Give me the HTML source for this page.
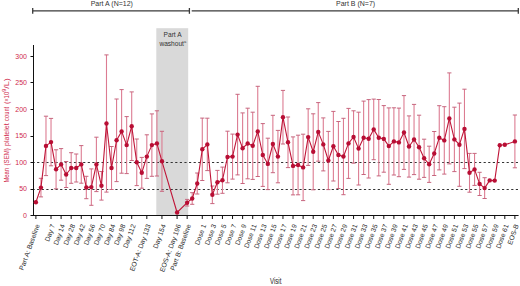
<!DOCTYPE html><html><head><meta charset="utf-8"><style>html,body{margin:0;padding:0;background:#fff;}svg{display:block}text{font-family:"Liberation Sans",sans-serif;}</style></head><body>
<svg width="520" height="286" viewBox="0 0 520 286">
<rect x="156.3" y="28.2" width="31.9" height="187.3" fill="#d9d9d9"/>
<text x="172.6" y="37.1" font-size="6.6" text-anchor="middle" fill="#333">Part A</text>
<text x="172.8" y="45.9" font-size="6.6" text-anchor="middle" fill="#333">washout<tspan font-size="4" dy="-2.8">a</tspan></text>
<g stroke="#3a3a3a" stroke-width="1.3" fill="none">
<line x1="32.7" y1="10.8" x2="189.4" y2="10.8"/><line x1="191.7" y1="10.8" x2="518.3" y2="10.8"/>
<line x1="32.7" y1="8" x2="32.7" y2="13.8"/><line x1="189.4" y1="8" x2="189.4" y2="13.8"/><line x1="518.3" y1="8" x2="518.3" y2="13.8"/>
</g>
<text x="111.8" y="5.7" font-size="7.00" text-anchor="middle" fill="#333">Part A (N=12)</text>
<text x="355.6" y="5.7" font-size="7.00" text-anchor="middle" fill="#333">Part B (N=7)</text>
<line x1="32.5" y1="162.50" x2="518.5" y2="162.50" stroke="#333" stroke-width="1" stroke-dasharray="2.2 2.403"/>
<line x1="32.5" y1="189.50" x2="518.5" y2="189.50" stroke="#333" stroke-width="1" stroke-dasharray="2.2 2.403"/>
<g stroke="#111" stroke-width="1" fill="none">
<line x1="33.5" y1="45" x2="33.5" y2="215.9"/>
<line x1="33" y1="215.5" x2="518.6" y2="215.5"/>
<line x1="30.5" y1="215.50" x2="33.5" y2="215.50"/>
<line x1="30.5" y1="189.50" x2="33.5" y2="189.50"/>
<line x1="30.5" y1="162.50" x2="33.5" y2="162.50"/>
<line x1="30.5" y1="136.50" x2="33.5" y2="136.50"/>
<line x1="30.5" y1="109.50" x2="33.5" y2="109.50"/>
<line x1="30.5" y1="82.50" x2="33.5" y2="82.50"/>
<line x1="30.5" y1="56.50" x2="33.5" y2="56.50"/>
<line x1="35.90" y1="215.5" x2="35.90" y2="219"/>
<line x1="51.03" y1="215.5" x2="51.03" y2="219"/>
<line x1="61.11" y1="215.5" x2="61.11" y2="219"/>
<line x1="71.19" y1="215.5" x2="71.19" y2="219"/>
<line x1="81.28" y1="215.5" x2="81.28" y2="219"/>
<line x1="91.36" y1="215.5" x2="91.36" y2="219"/>
<line x1="101.45" y1="215.5" x2="101.45" y2="219"/>
<line x1="111.53" y1="215.5" x2="111.53" y2="219"/>
<line x1="121.61" y1="215.5" x2="121.61" y2="219"/>
<line x1="131.70" y1="215.5" x2="131.70" y2="219"/>
<line x1="146.82" y1="215.5" x2="146.82" y2="219"/>
<line x1="161.95" y1="215.5" x2="161.95" y2="219"/>
<line x1="177.08" y1="215.5" x2="177.08" y2="219"/>
<line x1="187.16" y1="215.5" x2="187.16" y2="219"/>
<line x1="202.29" y1="215.5" x2="202.29" y2="219"/>
<line x1="212.37" y1="215.5" x2="212.37" y2="219"/>
<line x1="222.45" y1="215.5" x2="222.45" y2="219"/>
<line x1="232.54" y1="215.5" x2="232.54" y2="219"/>
<line x1="242.62" y1="215.5" x2="242.62" y2="219"/>
<line x1="252.71" y1="215.5" x2="252.71" y2="219"/>
<line x1="262.79" y1="215.5" x2="262.79" y2="219"/>
<line x1="272.87" y1="215.5" x2="272.87" y2="219"/>
<line x1="282.96" y1="215.5" x2="282.96" y2="219"/>
<line x1="293.04" y1="215.5" x2="293.04" y2="219"/>
<line x1="303.13" y1="215.5" x2="303.13" y2="219"/>
<line x1="313.21" y1="215.5" x2="313.21" y2="219"/>
<line x1="323.29" y1="215.5" x2="323.29" y2="219"/>
<line x1="333.38" y1="215.5" x2="333.38" y2="219"/>
<line x1="343.46" y1="215.5" x2="343.46" y2="219"/>
<line x1="353.55" y1="215.5" x2="353.55" y2="219"/>
<line x1="363.63" y1="215.5" x2="363.63" y2="219"/>
<line x1="373.71" y1="215.5" x2="373.71" y2="219"/>
<line x1="383.80" y1="215.5" x2="383.80" y2="219"/>
<line x1="393.88" y1="215.5" x2="393.88" y2="219"/>
<line x1="403.97" y1="215.5" x2="403.97" y2="219"/>
<line x1="414.05" y1="215.5" x2="414.05" y2="219"/>
<line x1="424.13" y1="215.5" x2="424.13" y2="219"/>
<line x1="434.22" y1="215.5" x2="434.22" y2="219"/>
<line x1="444.30" y1="215.5" x2="444.30" y2="219"/>
<line x1="454.39" y1="215.5" x2="454.39" y2="219"/>
<line x1="464.47" y1="215.5" x2="464.47" y2="219"/>
<line x1="474.55" y1="215.5" x2="474.55" y2="219"/>
<line x1="484.64" y1="215.5" x2="484.64" y2="219"/>
<line x1="494.72" y1="215.5" x2="494.72" y2="219"/>
<line x1="504.81" y1="215.5" x2="504.81" y2="219"/>
<line x1="514.89" y1="215.5" x2="514.89" y2="219"/>
</g>
<text x="27" y="217.87" font-size="7.00" text-anchor="end" fill="#cf2a4c">0</text>
<text x="27" y="191.35" font-size="7.00" text-anchor="end" fill="#cf2a4c">50</text>
<text x="27" y="164.83" font-size="7.00" text-anchor="end" fill="#cf2a4c">100</text>
<text x="27" y="138.31" font-size="7.00" text-anchor="end" fill="#cf2a4c">150</text>
<text x="27" y="111.79" font-size="7.00" text-anchor="end" fill="#cf2a4c">200</text>
<text x="27" y="85.27" font-size="7.00" text-anchor="end" fill="#cf2a4c">250</text>
<text x="27" y="58.75" font-size="7.00" text-anchor="end" fill="#cf2a4c">300</text>
<text transform="translate(9.00,182.50) rotate(-90)" font-size="7.60" textLength="14.60" lengthAdjust="spacingAndGlyphs" fill="#cf2a4c">Mean</text>
<text transform="translate(9.00,165.40) rotate(-90)" font-size="7.60" textLength="17.20" lengthAdjust="spacingAndGlyphs" fill="#cf2a4c">(SEM)</text>
<text transform="translate(9.00,145.90) rotate(-90)" font-size="7.60" textLength="22.50" lengthAdjust="spacingAndGlyphs" fill="#cf2a4c">platelet</text>
<text transform="translate(9.00,120.90) rotate(-90)" font-size="7.60" textLength="14.10" lengthAdjust="spacingAndGlyphs" fill="#cf2a4c">count</text>
<text transform="translate(9.00,103.80) rotate(-90)" font-size="7.60" fill="#cf2a4c"><tspan textLength="12" lengthAdjust="spacingAndGlyphs">(×10</tspan><tspan font-size="5.4" dy="-3">9</tspan><tspan dy="3" textLength="10.5" lengthAdjust="spacingAndGlyphs">/L)</tspan></text>
<text transform="translate(39.90,225.30) rotate(-70)" font-size="6.80" text-anchor="end" fill="#262626">Part A: Baseline</text>
<text transform="translate(55.03,225.30) rotate(-70)" font-size="6.80" text-anchor="end" fill="#262626">Day 7</text>
<text transform="translate(65.11,225.30) rotate(-70)" font-size="6.80" text-anchor="end" fill="#262626">Day 14</text>
<text transform="translate(75.19,225.30) rotate(-70)" font-size="6.80" text-anchor="end" fill="#262626">Day 28</text>
<text transform="translate(85.28,225.30) rotate(-70)" font-size="6.80" text-anchor="end" fill="#262626">Day 42</text>
<text transform="translate(95.36,225.30) rotate(-70)" font-size="6.80" text-anchor="end" fill="#262626">Day 56</text>
<text transform="translate(105.45,225.30) rotate(-70)" font-size="6.80" text-anchor="end" fill="#262626">Day 70</text>
<text transform="translate(115.53,225.30) rotate(-70)" font-size="6.80" text-anchor="end" fill="#262626">Day 84</text>
<text transform="translate(125.61,225.30) rotate(-70)" font-size="6.80" text-anchor="end" fill="#262626">Day 98</text>
<text transform="translate(135.70,225.30) rotate(-70)" font-size="6.80" text-anchor="end" fill="#262626">Day 112</text>
<text transform="translate(150.82,225.30) rotate(-70)" font-size="6.80" text-anchor="end" fill="#262626">EOT-A: Day 133</text>
<text transform="translate(165.95,225.30) rotate(-70)" font-size="6.80" text-anchor="end" fill="#262626">Day 154</text>
<text transform="translate(181.08,225.30) rotate(-70)" font-size="6.80" text-anchor="end" fill="#262626">EOS-A: Day 196</text>
<text transform="translate(191.16,225.30) rotate(-70)" font-size="6.80" text-anchor="end" fill="#262626">Part B: Baseline</text>
<text transform="translate(206.29,225.30) rotate(-70)" font-size="6.80" text-anchor="end" fill="#262626">Dose 1</text>
<text transform="translate(216.37,225.30) rotate(-70)" font-size="6.80" text-anchor="end" fill="#262626">Dose 3</text>
<text transform="translate(226.45,225.30) rotate(-70)" font-size="6.80" text-anchor="end" fill="#262626">Dose 5</text>
<text transform="translate(236.54,225.30) rotate(-70)" font-size="6.80" text-anchor="end" fill="#262626">Dose 7</text>
<text transform="translate(246.62,225.30) rotate(-70)" font-size="6.80" text-anchor="end" fill="#262626">Dose 9</text>
<text transform="translate(256.71,225.30) rotate(-70)" font-size="6.80" text-anchor="end" fill="#262626">Dose 11</text>
<text transform="translate(266.79,225.30) rotate(-70)" font-size="6.80" text-anchor="end" fill="#262626">Dose 13</text>
<text transform="translate(276.87,225.30) rotate(-70)" font-size="6.80" text-anchor="end" fill="#262626">Dose 15</text>
<text transform="translate(286.96,225.30) rotate(-70)" font-size="6.80" text-anchor="end" fill="#262626">Dose 17</text>
<text transform="translate(297.04,225.30) rotate(-70)" font-size="6.80" text-anchor="end" fill="#262626">Dose 19</text>
<text transform="translate(307.13,225.30) rotate(-70)" font-size="6.80" text-anchor="end" fill="#262626">Dose 21</text>
<text transform="translate(317.21,225.30) rotate(-70)" font-size="6.80" text-anchor="end" fill="#262626">Dose 23</text>
<text transform="translate(327.29,225.30) rotate(-70)" font-size="6.80" text-anchor="end" fill="#262626">Dose 25</text>
<text transform="translate(337.38,225.30) rotate(-70)" font-size="6.80" text-anchor="end" fill="#262626">Dose 27</text>
<text transform="translate(347.46,225.30) rotate(-70)" font-size="6.80" text-anchor="end" fill="#262626">Dose 29</text>
<text transform="translate(357.55,225.30) rotate(-70)" font-size="6.80" text-anchor="end" fill="#262626">Dose 31</text>
<text transform="translate(367.63,225.30) rotate(-70)" font-size="6.80" text-anchor="end" fill="#262626">Dose 33</text>
<text transform="translate(377.71,225.30) rotate(-70)" font-size="6.80" text-anchor="end" fill="#262626">Dose 35</text>
<text transform="translate(387.80,225.30) rotate(-70)" font-size="6.80" text-anchor="end" fill="#262626">Dose 37</text>
<text transform="translate(397.88,225.30) rotate(-70)" font-size="6.80" text-anchor="end" fill="#262626">Dose 39</text>
<text transform="translate(407.97,225.30) rotate(-70)" font-size="6.80" text-anchor="end" fill="#262626">Dose 41</text>
<text transform="translate(418.05,225.30) rotate(-70)" font-size="6.80" text-anchor="end" fill="#262626">Dose 43</text>
<text transform="translate(428.13,225.30) rotate(-70)" font-size="6.80" text-anchor="end" fill="#262626">Dose 45</text>
<text transform="translate(438.22,225.30) rotate(-70)" font-size="6.80" text-anchor="end" fill="#262626">Dose 47</text>
<text transform="translate(448.30,225.30) rotate(-70)" font-size="6.80" text-anchor="end" fill="#262626">Dose 49</text>
<text transform="translate(458.39,225.30) rotate(-70)" font-size="6.80" text-anchor="end" fill="#262626">Dose 51</text>
<text transform="translate(468.47,225.30) rotate(-70)" font-size="6.80" text-anchor="end" fill="#262626">Dose 53</text>
<text transform="translate(478.55,225.30) rotate(-70)" font-size="6.80" text-anchor="end" fill="#262626">Dose 55</text>
<text transform="translate(488.64,225.30) rotate(-70)" font-size="6.80" text-anchor="end" fill="#262626">Dose 57</text>
<text transform="translate(498.72,225.30) rotate(-70)" font-size="6.80" text-anchor="end" fill="#262626">Dose 59</text>
<text transform="translate(508.81,225.30) rotate(-70)" font-size="6.80" text-anchor="end" fill="#262626">Dose 61</text>
<text transform="translate(518.89,225.30) rotate(-70)" font-size="6.80" text-anchor="end" fill="#262626">EOS-B</text>
<text x="270.1" y="283.6" font-size="9.8" textLength="11.3" lengthAdjust="spacingAndGlyphs" fill="#222">Visit</text>
<g stroke="#dc7c92" stroke-width="1.1" fill="none">
<line x1="40.94" y1="178.30" x2="40.94" y2="196.90"/>
<line x1="45.98" y1="116.20" x2="45.98" y2="175.60"/>
<line x1="51.03" y1="118.40" x2="51.03" y2="165.80"/>
<line x1="56.07" y1="149.80" x2="56.07" y2="188.80"/>
<line x1="61.11" y1="148.60" x2="61.11" y2="180.20"/>
<line x1="66.15" y1="161.50" x2="66.15" y2="187.50"/>
<line x1="71.19" y1="152.70" x2="71.19" y2="183.30"/>
<line x1="76.24" y1="154.00" x2="76.24" y2="182.00"/>
<line x1="81.28" y1="145.60" x2="81.28" y2="183.20"/>
<line x1="86.32" y1="176.30" x2="86.32" y2="198.70"/>
<line x1="91.36" y1="168.90" x2="91.36" y2="205.30"/>
<line x1="96.40" y1="137.20" x2="96.40" y2="191.60"/>
<line x1="101.45" y1="171.50" x2="101.45" y2="200.10"/>
<line x1="106.49" y1="54.90" x2="106.49" y2="192.10"/>
<line x1="111.53" y1="146.50" x2="111.53" y2="189.50"/>
<line x1="116.57" y1="99.00" x2="116.57" y2="181.60"/>
<line x1="121.61" y1="89.60" x2="121.61" y2="173.20"/>
<line x1="126.66" y1="116.60" x2="126.66" y2="173.60"/>
<line x1="131.70" y1="91.90" x2="131.70" y2="160.50"/>
<line x1="136.74" y1="139.00" x2="136.74" y2="185.60"/>
<line x1="141.78" y1="157.40" x2="141.78" y2="188.20"/>
<line x1="146.82" y1="134.80" x2="146.82" y2="178.40"/>
<line x1="151.87" y1="113.90" x2="151.87" y2="176.30"/>
<line x1="156.91" y1="110.80" x2="156.91" y2="176.00"/>
<line x1="161.95" y1="131.30" x2="161.95" y2="191.30"/>
<line x1="187.16" y1="199.40" x2="187.16" y2="206.00"/>
<line x1="192.20" y1="192.70" x2="192.20" y2="204.30"/>
<line x1="197.24" y1="173.00" x2="197.24" y2="194.00"/>
<line x1="202.29" y1="118.10" x2="202.29" y2="180.50"/>
<line x1="207.33" y1="118.20" x2="207.33" y2="170.60"/>
<line x1="212.37" y1="186.00" x2="212.37" y2="203.60"/>
<line x1="217.41" y1="170.40" x2="217.41" y2="194.20"/>
<line x1="222.45" y1="167.10" x2="222.45" y2="193.30"/>
<line x1="227.50" y1="131.20" x2="227.50" y2="182.80"/>
<line x1="232.54" y1="134.10" x2="232.54" y2="179.10"/>
<line x1="237.58" y1="94.30" x2="237.58" y2="174.90"/>
<line x1="242.62" y1="112.90" x2="242.62" y2="183.50"/>
<line x1="247.66" y1="108.20" x2="247.66" y2="178.80"/>
<line x1="252.71" y1="112.20" x2="252.71" y2="179.40"/>
<line x1="257.75" y1="86.30" x2="257.75" y2="176.50"/>
<line x1="262.79" y1="123.60" x2="262.79" y2="186.40"/>
<line x1="267.83" y1="138.20" x2="267.83" y2="189.60"/>
<line x1="272.87" y1="115.30" x2="272.87" y2="172.70"/>
<line x1="277.92" y1="130.40" x2="277.92" y2="182.80"/>
<line x1="282.96" y1="90.40" x2="282.96" y2="144.00"/>
<line x1="288.00" y1="117.00" x2="288.00" y2="167.60"/>
<line x1="293.04" y1="136.90" x2="293.04" y2="194.90"/>
<line x1="298.08" y1="135.20" x2="298.08" y2="194.80"/>
<line x1="303.13" y1="134.20" x2="303.13" y2="200.60"/>
<line x1="308.17" y1="108.80" x2="308.17" y2="165.40"/>
<line x1="313.21" y1="113.80" x2="313.21" y2="189.80"/>
<line x1="318.25" y1="102.60" x2="318.25" y2="161.20"/>
<line x1="323.29" y1="117.90" x2="323.29" y2="170.90"/>
<line x1="328.34" y1="131.40" x2="328.34" y2="189.60"/>
<line x1="333.38" y1="111.40" x2="333.38" y2="181.00"/>
<line x1="338.42" y1="121.50" x2="338.42" y2="188.50"/>
<line x1="343.46" y1="118.30" x2="343.46" y2="194.70"/>
<line x1="348.50" y1="108.40" x2="348.50" y2="178.40"/>
<line x1="353.55" y1="110.80" x2="353.55" y2="163.20"/>
<line x1="358.59" y1="112.20" x2="358.59" y2="185.00"/>
<line x1="363.63" y1="101.10" x2="363.63" y2="174.50"/>
<line x1="368.67" y1="99.60" x2="368.67" y2="178.00"/>
<line x1="373.71" y1="99.10" x2="373.71" y2="159.70"/>
<line x1="378.76" y1="99.50" x2="378.76" y2="175.90"/>
<line x1="383.80" y1="105.60" x2="383.80" y2="172.20"/>
<line x1="388.84" y1="107.90" x2="388.84" y2="184.30"/>
<line x1="393.88" y1="107.80" x2="393.88" y2="175.00"/>
<line x1="398.92" y1="108.10" x2="398.92" y2="176.70"/>
<line x1="403.97" y1="95.60" x2="403.97" y2="169.40"/>
<line x1="409.01" y1="115.90" x2="409.01" y2="177.10"/>
<line x1="414.05" y1="104.40" x2="414.05" y2="174.60"/>
<line x1="419.09" y1="115.20" x2="419.09" y2="179.20"/>
<line x1="424.13" y1="139.20" x2="424.13" y2="177.40"/>
<line x1="429.18" y1="146.20" x2="429.18" y2="182.40"/>
<line x1="434.22" y1="131.50" x2="434.22" y2="175.50"/>
<line x1="439.26" y1="105.70" x2="439.26" y2="169.90"/>
<line x1="444.30" y1="106.70" x2="444.30" y2="174.10"/>
<line x1="449.34" y1="72.90" x2="449.34" y2="163.90"/>
<line x1="454.39" y1="107.20" x2="454.39" y2="171.60"/>
<line x1="459.43" y1="103.10" x2="459.43" y2="186.30"/>
<line x1="464.47" y1="89.20" x2="464.47" y2="168.60"/>
<line x1="469.51" y1="153.40" x2="469.51" y2="192.20"/>
<line x1="474.55" y1="153.40" x2="474.55" y2="185.40"/>
<line x1="479.60" y1="172.30" x2="479.60" y2="195.50"/>
<line x1="484.64" y1="177.70" x2="484.64" y2="198.50"/>
<line x1="514.89" y1="115.00" x2="514.89" y2="167.80"/>
</g>
<g stroke="#c6667e" stroke-width="1" fill="none">
<line x1="38.84" y1="178.30" x2="43.04" y2="178.30"/>
<line x1="38.84" y1="196.90" x2="43.04" y2="196.90"/>
<line x1="43.88" y1="116.20" x2="48.08" y2="116.20"/>
<line x1="43.88" y1="175.60" x2="48.08" y2="175.60"/>
<line x1="48.93" y1="118.40" x2="53.13" y2="118.40"/>
<line x1="48.93" y1="165.80" x2="53.13" y2="165.80"/>
<line x1="53.97" y1="149.80" x2="58.17" y2="149.80"/>
<line x1="53.97" y1="188.80" x2="58.17" y2="188.80"/>
<line x1="59.01" y1="148.60" x2="63.21" y2="148.60"/>
<line x1="59.01" y1="180.20" x2="63.21" y2="180.20"/>
<line x1="64.05" y1="161.50" x2="68.25" y2="161.50"/>
<line x1="64.05" y1="187.50" x2="68.25" y2="187.50"/>
<line x1="69.09" y1="152.70" x2="73.29" y2="152.70"/>
<line x1="69.09" y1="183.30" x2="73.29" y2="183.30"/>
<line x1="74.14" y1="154.00" x2="78.34" y2="154.00"/>
<line x1="74.14" y1="182.00" x2="78.34" y2="182.00"/>
<line x1="79.18" y1="145.60" x2="83.38" y2="145.60"/>
<line x1="79.18" y1="183.20" x2="83.38" y2="183.20"/>
<line x1="84.22" y1="176.30" x2="88.42" y2="176.30"/>
<line x1="84.22" y1="198.70" x2="88.42" y2="198.70"/>
<line x1="89.26" y1="168.90" x2="93.46" y2="168.90"/>
<line x1="89.26" y1="205.30" x2="93.46" y2="205.30"/>
<line x1="94.30" y1="137.20" x2="98.50" y2="137.20"/>
<line x1="94.30" y1="191.60" x2="98.50" y2="191.60"/>
<line x1="99.35" y1="171.50" x2="103.55" y2="171.50"/>
<line x1="99.35" y1="200.10" x2="103.55" y2="200.10"/>
<line x1="104.39" y1="54.90" x2="108.59" y2="54.90"/>
<line x1="104.39" y1="192.10" x2="108.59" y2="192.10"/>
<line x1="109.43" y1="146.50" x2="113.63" y2="146.50"/>
<line x1="109.43" y1="189.50" x2="113.63" y2="189.50"/>
<line x1="114.47" y1="99.00" x2="118.67" y2="99.00"/>
<line x1="114.47" y1="181.60" x2="118.67" y2="181.60"/>
<line x1="119.51" y1="89.60" x2="123.71" y2="89.60"/>
<line x1="119.51" y1="173.20" x2="123.71" y2="173.20"/>
<line x1="124.56" y1="116.60" x2="128.76" y2="116.60"/>
<line x1="124.56" y1="173.60" x2="128.76" y2="173.60"/>
<line x1="129.60" y1="91.90" x2="133.80" y2="91.90"/>
<line x1="129.60" y1="160.50" x2="133.80" y2="160.50"/>
<line x1="134.64" y1="139.00" x2="138.84" y2="139.00"/>
<line x1="134.64" y1="185.60" x2="138.84" y2="185.60"/>
<line x1="139.68" y1="157.40" x2="143.88" y2="157.40"/>
<line x1="139.68" y1="188.20" x2="143.88" y2="188.20"/>
<line x1="144.72" y1="134.80" x2="148.92" y2="134.80"/>
<line x1="144.72" y1="178.40" x2="148.92" y2="178.40"/>
<line x1="149.77" y1="113.90" x2="153.97" y2="113.90"/>
<line x1="149.77" y1="176.30" x2="153.97" y2="176.30"/>
<line x1="154.81" y1="110.80" x2="159.01" y2="110.80"/>
<line x1="154.81" y1="176.00" x2="159.01" y2="176.00"/>
<line x1="159.85" y1="131.30" x2="164.05" y2="131.30"/>
<line x1="159.85" y1="191.30" x2="164.05" y2="191.30"/>
<line x1="185.06" y1="199.40" x2="189.26" y2="199.40"/>
<line x1="185.06" y1="206.00" x2="189.26" y2="206.00"/>
<line x1="190.10" y1="192.70" x2="194.30" y2="192.70"/>
<line x1="190.10" y1="204.30" x2="194.30" y2="204.30"/>
<line x1="195.14" y1="173.00" x2="199.34" y2="173.00"/>
<line x1="195.14" y1="194.00" x2="199.34" y2="194.00"/>
<line x1="200.19" y1="118.10" x2="204.39" y2="118.10"/>
<line x1="200.19" y1="180.50" x2="204.39" y2="180.50"/>
<line x1="205.23" y1="118.20" x2="209.43" y2="118.20"/>
<line x1="205.23" y1="170.60" x2="209.43" y2="170.60"/>
<line x1="210.27" y1="186.00" x2="214.47" y2="186.00"/>
<line x1="210.27" y1="203.60" x2="214.47" y2="203.60"/>
<line x1="215.31" y1="170.40" x2="219.51" y2="170.40"/>
<line x1="215.31" y1="194.20" x2="219.51" y2="194.20"/>
<line x1="220.35" y1="167.10" x2="224.55" y2="167.10"/>
<line x1="220.35" y1="193.30" x2="224.55" y2="193.30"/>
<line x1="225.40" y1="131.20" x2="229.60" y2="131.20"/>
<line x1="225.40" y1="182.80" x2="229.60" y2="182.80"/>
<line x1="230.44" y1="134.10" x2="234.64" y2="134.10"/>
<line x1="230.44" y1="179.10" x2="234.64" y2="179.10"/>
<line x1="235.48" y1="94.30" x2="239.68" y2="94.30"/>
<line x1="235.48" y1="174.90" x2="239.68" y2="174.90"/>
<line x1="240.52" y1="112.90" x2="244.72" y2="112.90"/>
<line x1="240.52" y1="183.50" x2="244.72" y2="183.50"/>
<line x1="245.56" y1="108.20" x2="249.76" y2="108.20"/>
<line x1="245.56" y1="178.80" x2="249.76" y2="178.80"/>
<line x1="250.61" y1="112.20" x2="254.81" y2="112.20"/>
<line x1="250.61" y1="179.40" x2="254.81" y2="179.40"/>
<line x1="255.65" y1="86.30" x2="259.85" y2="86.30"/>
<line x1="255.65" y1="176.50" x2="259.85" y2="176.50"/>
<line x1="260.69" y1="123.60" x2="264.89" y2="123.60"/>
<line x1="260.69" y1="186.40" x2="264.89" y2="186.40"/>
<line x1="265.73" y1="138.20" x2="269.93" y2="138.20"/>
<line x1="265.73" y1="189.60" x2="269.93" y2="189.60"/>
<line x1="270.77" y1="115.30" x2="274.97" y2="115.30"/>
<line x1="270.77" y1="172.70" x2="274.97" y2="172.70"/>
<line x1="275.82" y1="130.40" x2="280.02" y2="130.40"/>
<line x1="275.82" y1="182.80" x2="280.02" y2="182.80"/>
<line x1="280.86" y1="90.40" x2="285.06" y2="90.40"/>
<line x1="280.86" y1="144.00" x2="285.06" y2="144.00"/>
<line x1="285.90" y1="117.00" x2="290.10" y2="117.00"/>
<line x1="285.90" y1="167.60" x2="290.10" y2="167.60"/>
<line x1="290.94" y1="136.90" x2="295.14" y2="136.90"/>
<line x1="290.94" y1="194.90" x2="295.14" y2="194.90"/>
<line x1="295.98" y1="135.20" x2="300.18" y2="135.20"/>
<line x1="295.98" y1="194.80" x2="300.18" y2="194.80"/>
<line x1="301.03" y1="134.20" x2="305.23" y2="134.20"/>
<line x1="301.03" y1="200.60" x2="305.23" y2="200.60"/>
<line x1="306.07" y1="108.80" x2="310.27" y2="108.80"/>
<line x1="306.07" y1="165.40" x2="310.27" y2="165.40"/>
<line x1="311.11" y1="113.80" x2="315.31" y2="113.80"/>
<line x1="311.11" y1="189.80" x2="315.31" y2="189.80"/>
<line x1="316.15" y1="102.60" x2="320.35" y2="102.60"/>
<line x1="316.15" y1="161.20" x2="320.35" y2="161.20"/>
<line x1="321.19" y1="117.90" x2="325.39" y2="117.90"/>
<line x1="321.19" y1="170.90" x2="325.39" y2="170.90"/>
<line x1="326.24" y1="131.40" x2="330.44" y2="131.40"/>
<line x1="326.24" y1="189.60" x2="330.44" y2="189.60"/>
<line x1="331.28" y1="111.40" x2="335.48" y2="111.40"/>
<line x1="331.28" y1="181.00" x2="335.48" y2="181.00"/>
<line x1="336.32" y1="121.50" x2="340.52" y2="121.50"/>
<line x1="336.32" y1="188.50" x2="340.52" y2="188.50"/>
<line x1="341.36" y1="118.30" x2="345.56" y2="118.30"/>
<line x1="341.36" y1="194.70" x2="345.56" y2="194.70"/>
<line x1="346.40" y1="108.40" x2="350.60" y2="108.40"/>
<line x1="346.40" y1="178.40" x2="350.60" y2="178.40"/>
<line x1="351.45" y1="110.80" x2="355.65" y2="110.80"/>
<line x1="351.45" y1="163.20" x2="355.65" y2="163.20"/>
<line x1="356.49" y1="112.20" x2="360.69" y2="112.20"/>
<line x1="356.49" y1="185.00" x2="360.69" y2="185.00"/>
<line x1="361.53" y1="101.10" x2="365.73" y2="101.10"/>
<line x1="361.53" y1="174.50" x2="365.73" y2="174.50"/>
<line x1="366.57" y1="99.60" x2="370.77" y2="99.60"/>
<line x1="366.57" y1="178.00" x2="370.77" y2="178.00"/>
<line x1="371.61" y1="99.10" x2="375.81" y2="99.10"/>
<line x1="371.61" y1="159.70" x2="375.81" y2="159.70"/>
<line x1="376.66" y1="99.50" x2="380.86" y2="99.50"/>
<line x1="376.66" y1="175.90" x2="380.86" y2="175.90"/>
<line x1="381.70" y1="105.60" x2="385.90" y2="105.60"/>
<line x1="381.70" y1="172.20" x2="385.90" y2="172.20"/>
<line x1="386.74" y1="107.90" x2="390.94" y2="107.90"/>
<line x1="386.74" y1="184.30" x2="390.94" y2="184.30"/>
<line x1="391.78" y1="107.80" x2="395.98" y2="107.80"/>
<line x1="391.78" y1="175.00" x2="395.98" y2="175.00"/>
<line x1="396.82" y1="108.10" x2="401.02" y2="108.10"/>
<line x1="396.82" y1="176.70" x2="401.02" y2="176.70"/>
<line x1="401.87" y1="95.60" x2="406.07" y2="95.60"/>
<line x1="401.87" y1="169.40" x2="406.07" y2="169.40"/>
<line x1="406.91" y1="115.90" x2="411.11" y2="115.90"/>
<line x1="406.91" y1="177.10" x2="411.11" y2="177.10"/>
<line x1="411.95" y1="104.40" x2="416.15" y2="104.40"/>
<line x1="411.95" y1="174.60" x2="416.15" y2="174.60"/>
<line x1="416.99" y1="115.20" x2="421.19" y2="115.20"/>
<line x1="416.99" y1="179.20" x2="421.19" y2="179.20"/>
<line x1="422.03" y1="139.20" x2="426.23" y2="139.20"/>
<line x1="422.03" y1="177.40" x2="426.23" y2="177.40"/>
<line x1="427.08" y1="146.20" x2="431.28" y2="146.20"/>
<line x1="427.08" y1="182.40" x2="431.28" y2="182.40"/>
<line x1="432.12" y1="131.50" x2="436.32" y2="131.50"/>
<line x1="432.12" y1="175.50" x2="436.32" y2="175.50"/>
<line x1="437.16" y1="105.70" x2="441.36" y2="105.70"/>
<line x1="437.16" y1="169.90" x2="441.36" y2="169.90"/>
<line x1="442.20" y1="106.70" x2="446.40" y2="106.70"/>
<line x1="442.20" y1="174.10" x2="446.40" y2="174.10"/>
<line x1="447.24" y1="72.90" x2="451.44" y2="72.90"/>
<line x1="447.24" y1="163.90" x2="451.44" y2="163.90"/>
<line x1="452.29" y1="107.20" x2="456.49" y2="107.20"/>
<line x1="452.29" y1="171.60" x2="456.49" y2="171.60"/>
<line x1="457.33" y1="103.10" x2="461.53" y2="103.10"/>
<line x1="457.33" y1="186.30" x2="461.53" y2="186.30"/>
<line x1="462.37" y1="89.20" x2="466.57" y2="89.20"/>
<line x1="462.37" y1="168.60" x2="466.57" y2="168.60"/>
<line x1="467.41" y1="153.40" x2="471.61" y2="153.40"/>
<line x1="467.41" y1="192.20" x2="471.61" y2="192.20"/>
<line x1="472.45" y1="153.40" x2="476.65" y2="153.40"/>
<line x1="472.45" y1="185.40" x2="476.65" y2="185.40"/>
<line x1="477.50" y1="172.30" x2="481.70" y2="172.30"/>
<line x1="477.50" y1="195.50" x2="481.70" y2="195.50"/>
<line x1="482.54" y1="177.70" x2="486.74" y2="177.70"/>
<line x1="482.54" y1="198.50" x2="486.74" y2="198.50"/>
<line x1="512.79" y1="115.00" x2="516.99" y2="115.00"/>
<line x1="512.79" y1="167.80" x2="516.99" y2="167.80"/>
</g>
<polyline points="35.90,202.30 40.94,187.60 45.98,145.90 51.03,142.10 56.07,169.30 61.11,164.40 66.15,174.50 71.19,168.00 76.24,168.00 81.28,164.40 86.32,187.50 91.36,187.10 96.40,164.40 101.45,185.80 106.49,123.50 111.53,168.00 116.57,140.30 121.61,131.40 126.66,145.10 131.70,126.20 136.74,162.30 141.78,172.80 146.82,156.60 151.87,145.10 156.91,143.40 161.95,161.30 177.08,212.50 187.16,202.70 192.20,198.50 197.24,183.50 202.29,149.30 207.33,144.40 212.37,194.80 217.41,182.30 222.45,180.20 227.50,157.00 232.54,156.60 237.58,134.60 242.62,148.20 247.66,143.50 252.71,145.80 257.75,131.40 262.79,155.00 267.83,163.90 272.87,144.00 277.92,156.60 282.96,117.20 288.00,142.30 293.04,165.90 298.08,165.00 303.13,167.40 308.17,137.10 313.21,151.80 318.25,131.90 323.29,144.40 328.34,160.50 333.38,146.20 338.42,155.00 343.46,156.50 348.50,143.40 353.55,137.00 358.59,148.60 363.63,137.80 368.67,138.80 373.71,129.40 378.76,137.70 383.80,138.90 388.84,146.10 393.88,141.40 398.92,142.40 403.97,132.50 409.01,146.50 414.05,139.50 419.09,147.20 424.13,158.30 429.18,164.30 434.22,153.50 439.26,137.80 444.30,140.40 449.34,118.40 454.39,139.40 459.43,144.70 464.47,128.90 469.51,172.80 474.55,169.40 479.60,183.90 484.64,188.10 489.68,180.40 494.72,180.60 499.76,145.20 504.81,144.80 514.89,141.40" fill="none" stroke="#c01538" stroke-width="1.1" stroke-linejoin="round"/>
<circle cx="35.90" cy="202.30" r="2.2" fill="#b80e34"/>
<circle cx="40.94" cy="187.60" r="2.2" fill="#b80e34"/>
<circle cx="45.98" cy="145.90" r="2.2" fill="#b80e34"/>
<circle cx="51.03" cy="142.10" r="2.2" fill="#b80e34"/>
<circle cx="56.07" cy="169.30" r="2.2" fill="#b80e34"/>
<circle cx="61.11" cy="164.40" r="2.2" fill="#b80e34"/>
<circle cx="66.15" cy="174.50" r="2.2" fill="#b80e34"/>
<circle cx="71.19" cy="168.00" r="2.2" fill="#b80e34"/>
<circle cx="76.24" cy="168.00" r="2.2" fill="#b80e34"/>
<circle cx="81.28" cy="164.40" r="2.2" fill="#b80e34"/>
<circle cx="86.32" cy="187.50" r="2.2" fill="#b80e34"/>
<circle cx="91.36" cy="187.10" r="2.2" fill="#b80e34"/>
<circle cx="96.40" cy="164.40" r="2.2" fill="#b80e34"/>
<circle cx="101.45" cy="185.80" r="2.2" fill="#b80e34"/>
<circle cx="106.49" cy="123.50" r="2.2" fill="#b80e34"/>
<circle cx="111.53" cy="168.00" r="2.2" fill="#b80e34"/>
<circle cx="116.57" cy="140.30" r="2.2" fill="#b80e34"/>
<circle cx="121.61" cy="131.40" r="2.2" fill="#b80e34"/>
<circle cx="126.66" cy="145.10" r="2.2" fill="#b80e34"/>
<circle cx="131.70" cy="126.20" r="2.2" fill="#b80e34"/>
<circle cx="136.74" cy="162.30" r="2.2" fill="#b80e34"/>
<circle cx="141.78" cy="172.80" r="2.2" fill="#b80e34"/>
<circle cx="146.82" cy="156.60" r="2.2" fill="#b80e34"/>
<circle cx="151.87" cy="145.10" r="2.2" fill="#b80e34"/>
<circle cx="156.91" cy="143.40" r="2.2" fill="#b80e34"/>
<circle cx="161.95" cy="161.30" r="2.2" fill="#b80e34"/>
<circle cx="177.08" cy="212.50" r="2.2" fill="#b80e34"/>
<circle cx="187.16" cy="202.70" r="2.2" fill="#b80e34"/>
<circle cx="192.20" cy="198.50" r="2.2" fill="#b80e34"/>
<circle cx="197.24" cy="183.50" r="2.2" fill="#b80e34"/>
<circle cx="202.29" cy="149.30" r="2.2" fill="#b80e34"/>
<circle cx="207.33" cy="144.40" r="2.2" fill="#b80e34"/>
<circle cx="212.37" cy="194.80" r="2.2" fill="#b80e34"/>
<circle cx="217.41" cy="182.30" r="2.2" fill="#b80e34"/>
<circle cx="222.45" cy="180.20" r="2.2" fill="#b80e34"/>
<circle cx="227.50" cy="157.00" r="2.2" fill="#b80e34"/>
<circle cx="232.54" cy="156.60" r="2.2" fill="#b80e34"/>
<circle cx="237.58" cy="134.60" r="2.2" fill="#b80e34"/>
<circle cx="242.62" cy="148.20" r="2.2" fill="#b80e34"/>
<circle cx="247.66" cy="143.50" r="2.2" fill="#b80e34"/>
<circle cx="252.71" cy="145.80" r="2.2" fill="#b80e34"/>
<circle cx="257.75" cy="131.40" r="2.2" fill="#b80e34"/>
<circle cx="262.79" cy="155.00" r="2.2" fill="#b80e34"/>
<circle cx="267.83" cy="163.90" r="2.2" fill="#b80e34"/>
<circle cx="272.87" cy="144.00" r="2.2" fill="#b80e34"/>
<circle cx="277.92" cy="156.60" r="2.2" fill="#b80e34"/>
<circle cx="282.96" cy="117.20" r="2.2" fill="#b80e34"/>
<circle cx="288.00" cy="142.30" r="2.2" fill="#b80e34"/>
<circle cx="293.04" cy="165.90" r="2.2" fill="#b80e34"/>
<circle cx="298.08" cy="165.00" r="2.2" fill="#b80e34"/>
<circle cx="303.13" cy="167.40" r="2.2" fill="#b80e34"/>
<circle cx="308.17" cy="137.10" r="2.2" fill="#b80e34"/>
<circle cx="313.21" cy="151.80" r="2.2" fill="#b80e34"/>
<circle cx="318.25" cy="131.90" r="2.2" fill="#b80e34"/>
<circle cx="323.29" cy="144.40" r="2.2" fill="#b80e34"/>
<circle cx="328.34" cy="160.50" r="2.2" fill="#b80e34"/>
<circle cx="333.38" cy="146.20" r="2.2" fill="#b80e34"/>
<circle cx="338.42" cy="155.00" r="2.2" fill="#b80e34"/>
<circle cx="343.46" cy="156.50" r="2.2" fill="#b80e34"/>
<circle cx="348.50" cy="143.40" r="2.2" fill="#b80e34"/>
<circle cx="353.55" cy="137.00" r="2.2" fill="#b80e34"/>
<circle cx="358.59" cy="148.60" r="2.2" fill="#b80e34"/>
<circle cx="363.63" cy="137.80" r="2.2" fill="#b80e34"/>
<circle cx="368.67" cy="138.80" r="2.2" fill="#b80e34"/>
<circle cx="373.71" cy="129.40" r="2.2" fill="#b80e34"/>
<circle cx="378.76" cy="137.70" r="2.2" fill="#b80e34"/>
<circle cx="383.80" cy="138.90" r="2.2" fill="#b80e34"/>
<circle cx="388.84" cy="146.10" r="2.2" fill="#b80e34"/>
<circle cx="393.88" cy="141.40" r="2.2" fill="#b80e34"/>
<circle cx="398.92" cy="142.40" r="2.2" fill="#b80e34"/>
<circle cx="403.97" cy="132.50" r="2.2" fill="#b80e34"/>
<circle cx="409.01" cy="146.50" r="2.2" fill="#b80e34"/>
<circle cx="414.05" cy="139.50" r="2.2" fill="#b80e34"/>
<circle cx="419.09" cy="147.20" r="2.2" fill="#b80e34"/>
<circle cx="424.13" cy="158.30" r="2.2" fill="#b80e34"/>
<circle cx="429.18" cy="164.30" r="2.2" fill="#b80e34"/>
<circle cx="434.22" cy="153.50" r="2.2" fill="#b80e34"/>
<circle cx="439.26" cy="137.80" r="2.2" fill="#b80e34"/>
<circle cx="444.30" cy="140.40" r="2.2" fill="#b80e34"/>
<circle cx="449.34" cy="118.40" r="2.2" fill="#b80e34"/>
<circle cx="454.39" cy="139.40" r="2.2" fill="#b80e34"/>
<circle cx="459.43" cy="144.70" r="2.2" fill="#b80e34"/>
<circle cx="464.47" cy="128.90" r="2.2" fill="#b80e34"/>
<circle cx="469.51" cy="172.80" r="2.2" fill="#b80e34"/>
<circle cx="474.55" cy="169.40" r="2.2" fill="#b80e34"/>
<circle cx="479.60" cy="183.90" r="2.2" fill="#b80e34"/>
<circle cx="484.64" cy="188.10" r="2.2" fill="#b80e34"/>
<circle cx="489.68" cy="180.40" r="2.2" fill="#b80e34"/>
<circle cx="494.72" cy="180.60" r="2.2" fill="#b80e34"/>
<circle cx="499.76" cy="145.20" r="2.2" fill="#b80e34"/>
<circle cx="504.81" cy="144.80" r="2.2" fill="#b80e34"/>
<circle cx="514.89" cy="141.40" r="2.2" fill="#b80e34"/>
</svg></body></html>
